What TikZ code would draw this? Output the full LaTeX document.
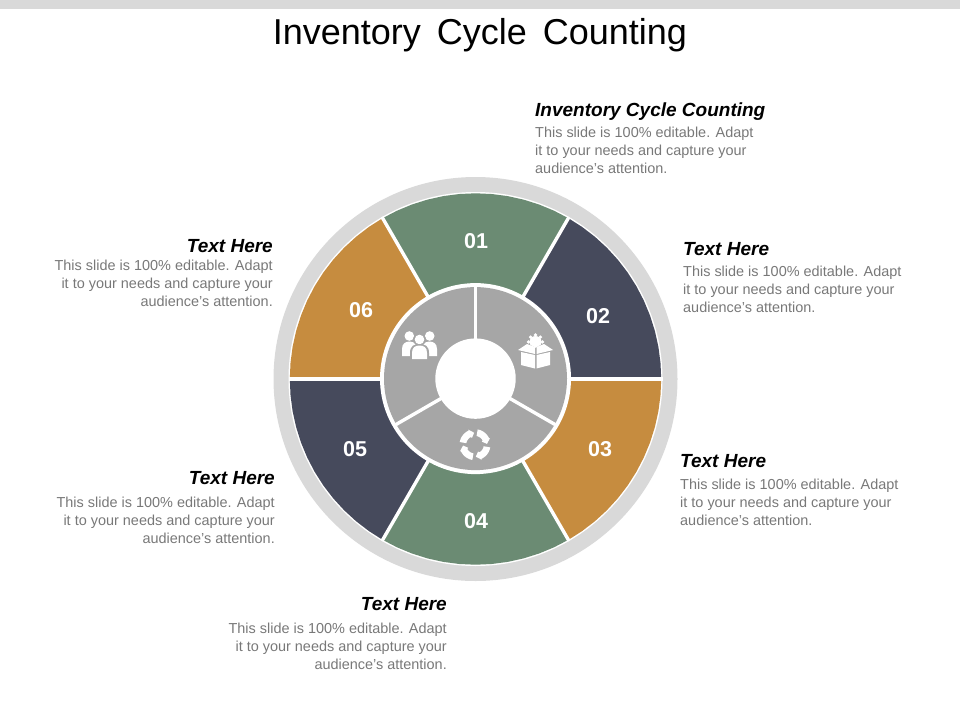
\documentclass[tikz,border=0pt]{standalone}
\usepackage{fontspec}
\usetikzlibrary{calc}
\setmainfont{Liberation Sans}
\definecolor{cgreen}{HTML}{6B8B73}
\definecolor{cnavy}{HTML}{464A5C}
\definecolor{cgold}{HTML}{C68C3F}
\definecolor{cring}{HTML}{D9D9D9}
\definecolor{cinner}{HTML}{A6A6A6}
\definecolor{cbody}{HTML}{787878}
\tikzset{
  numlabel/.style={text=white,font=\fontsize{21.5}{24}\selectfont\bfseries,inner sep=0pt},
  headleft/.style={anchor=base east,inner sep=0pt,font=\fontsize{19}{22}\selectfont\bfseries\itshape,text=black},
  headright/.style={anchor=base west,inner sep=0pt,font=\fontsize{19}{22}\selectfont\bfseries\itshape,text=black},
  bodyleft/.style={anchor=north east,align=right,inner sep=0pt,text=cbody,font=\fontsize{14.45}{18}\selectfont},
  bodyright/.style={anchor=north west,align=left,inner sep=0pt,text=cbody,font=\fontsize{14.45}{18}\selectfont},
  gap/.style={draw=white,line width=3.4pt},
  icon/.style={fill=white,draw=none}
}
\begin{document}
\begin{tikzpicture}[x=1pt,y=-1pt]
\useasboundingbox (0,0) rectangle (960,720);
\fill[cring] (0,0) rectangle (960,9);
\node[inner sep=0pt,font=\fontsize{36}{40}\selectfont,text=black] (title) at (480,35.5) {Inventory\hspace{6pt} Cycle\hspace{6pt} Counting};
\coordinate (c) at (475.5,379);
\fill[cring] (c) circle[radius=202];
\fill[white] (c) circle[radius=187];
\foreach \a/\col in {60/cgreen,0/cnavy,-60/cgold,-120/cgreen,-180/cnavy,120/cgold}{
  \fill[\col] (c) -- ($(c)+({-\a}:185.7)$)
    \foreach \t in {0,5,...,60}{ -- ($(c)+({-\a-\t}:185.7)$) } -- cycle;
}
\foreach \a in {0,60,120,180,240,300}{
  \draw[gap] (c) -- ($(c)+({-\a}:187)$);
}
\coordinate (d) at (475.5,378.6);
\fill[white] (d) circle[radius=95.5];
\fill[cinner] (d) circle[radius=91.5];
\foreach \a in {90,-30,210}{
  \draw[gap] (d) -- ($(d)+({-\a}:92)$);
}
\fill[white] (d) circle[radius=40.2];
\node[numlabel] (n1) at (476,241.5) {01};
\node[numlabel] (n2) at (598,316.5) {02};
\node[numlabel] (n3) at (600,449.5) {03};
\node[numlabel] (n4) at (476,521.5) {04};
\node[numlabel] (n5) at (355,449.5) {05};
\node[numlabel] (n6) at (361,310.5) {06};
% heads and bodies
\node[headright] (h1) at (535,116) {Inventory Cycle Counting};
\node[bodyright] (b1) at (535,126.5) {This slide is 100\% editable. Adapt\\it to your needs and capture your\\audience's attention.};
\node[headright] (h2) at (683,255) {Text Here};
\node[bodyright] (b2) at (683,265.5) {This slide is 100\% editable. Adapt\\it to your needs and capture your\\audience's attention.};
\node[headright] (h3) at (680,467) {Text Here};
\node[bodyright] (b3) at (680,478.5) {This slide is 100\% editable. Adapt\\it to your needs and capture your\\audience's attention.};
\node[headleft] (h4) at (447,610) {Text Here};
\node[bodyleft] (b4) at (447,622.5) {This slide is 100\% editable. Adapt\\it to your needs and capture your\\audience's attention.};
\node[headleft] (h5) at (275,484) {Text Here};
\node[bodyleft] (b5) at (275,496.5) {This slide is 100\% editable. Adapt\\it to your needs and capture your\\audience's attention.};
\node[headleft] (h6) at (273,252) {Text Here};
\node[bodyleft] (b6) at (273,259.5) {This slide is 100\% editable. Adapt\\it to your needs and capture your\\audience's attention.};
% people icon
\fill[icon] (409.3,336) circle[radius=4.8];
\fill[icon] (429.7,336) circle[radius=4.8];
\fill[icon] (402,356) -- (402,349) .. controls (402,343) and (406,341.5) .. (410,341.5) .. controls (413,341.5) and (415,343) .. (416,345) -- (413,356) -- cycle;
\fill[icon] (437,356) -- (437,349) .. controls (437,343) and (433,341.5) .. (429,341.5) .. controls (426,341.5) and (424,343) .. (423,345) -- (426,356) -- cycle;
\fill[cinner] (419.5,339.5) circle[radius=6.3];
\fill[icon] (419.5,339.5) circle[radius=4.8];
\fill[cinner] (410,360) -- (410,353) .. controls (410,346) and (414,344) .. (419.5,344) .. controls (425,344) and (429,346) .. (429,353) -- (429,360) -- cycle;
\fill[icon] (412,359) -- (412,353) .. controls (412,347.5) and (415,345.5) .. (419.5,345.5) .. controls (424,345.5) and (427,347.5) .. (427,353) -- (427,359) -- cycle;
% box icon
\fill[icon] (535.5,342) circle[radius=6];
\foreach \a in {0,45,...,315}{\fill[icon] ($(535.5,342)+(\a:7)$) circle[radius=1.8];}
\fill[cinner] (516,345) -- (526,342.5) -- (535.5,348) -- (545,342.5) -- (555,345) -- (555,370) -- (516,370) -- cycle;
\fill[icon] (521,352) -- (535,355) -- (535,368.5) -- (521,365) -- cycle;
\fill[icon] (550,352) -- (536.5,355) -- (536.5,368.5) -- (550,365) -- cycle;
\fill[icon] (518,350) -- (527,344) -- (535,347) -- (535,354) -- cycle;
\fill[icon] (553,350) -- (544,344) -- (536.5,347) -- (536.5,354) -- cycle;
% cycle icon
\coordinate (r) at (475,444.7);
\foreach \a in {10,100,190,280}{
  \fill[icon] ($(r)+(\a:8.8)$)
    \foreach \t in {10,20,...,50}{ -- ($(r)+({\a+\t}:8.8)$) }
    -- ($(r)+({\a+56}:7.5)$) -- ($(r)+({\a+76}:12)$) -- ($(r)+({\a+56}:16.5)$) -- ($(r)+({\a+56}:15.5)$)
    \foreach \t in {50,40,...,0}{ -- ($(r)+({\a+\t}:15.5)$) } -- cycle;
}
\end{tikzpicture}
\end{document}
